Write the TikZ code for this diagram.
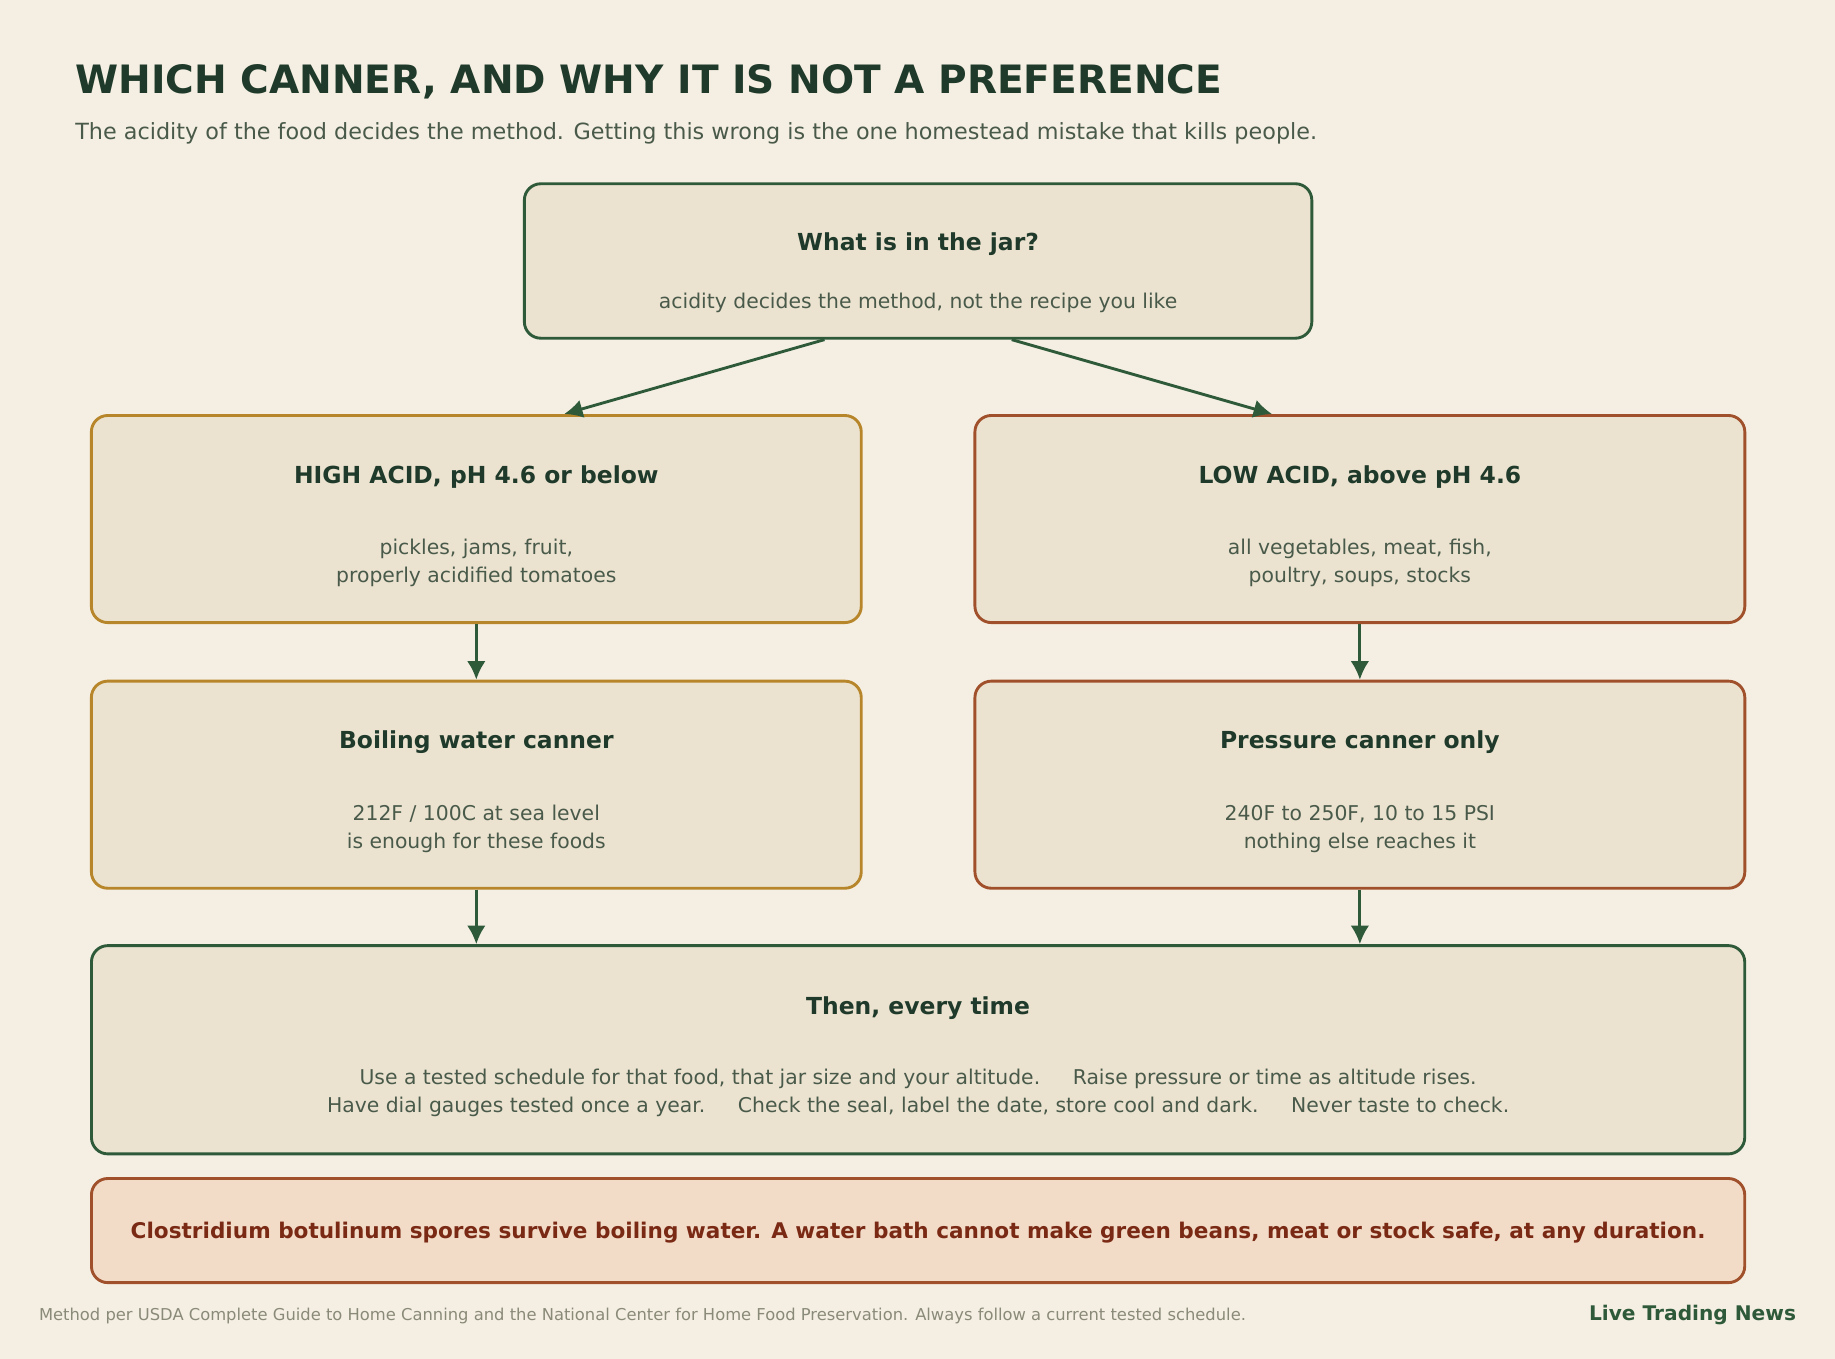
\documentclass[tikz,border=0pt]{standalone}
\usepackage{fontspec}
\setmainfont{DejaVu Sans}
\usetikzlibrary{calc,arrows.meta}
\definecolor{bgpaper}{HTML}{F5EFE3}
\definecolor{boxfill}{HTML}{EBE3D0}
\definecolor{darkgreen}{HTML}{2E5A3A}
\definecolor{titlegreen}{HTML}{1F3A2A}
\definecolor{bodygray}{HTML}{4A5A4A}
\definecolor{gold}{HTML}{B8862A}
\definecolor{rust}{HTML}{A0502A}
\definecolor{warnfill}{HTML}{F2DCC8}
\definecolor{warntext}{HTML}{7A2A14}
\definecolor{footgray}{HTML}{8A8A78}
\tikzset{
  box/.style={draw, line width=1.4pt, rounded corners=0.28cm, fill=boxfill},
  hed/.style={font=\fontsize{11.4}{14}\selectfont\bfseries, text=titlegreen},
  txt/.style={font=\fontsize{9.9}{13.6}\selectfont, text=bodygray, align=center},
  arr/.style={-{Latex[length=9pt,width=9pt]}, line width=1.4pt, draw=darkgreen}
}
\begin{document}
\begin{tikzpicture}[x=0.02cm,y=-0.02cm]
\fill[bgpaper] (0,0) rectangle (1568,1161);
\useasboundingbox (0,0) rectangle (1568,1161);
% heading
\node[anchor=base west, inner sep=0, text=titlegreen, font=\fontsize{19}{22}\selectfont\bfseries] (title) at (64,80) {WHICH CANNER, AND WHY IT IS NOT A PREFERENCE};
\node[anchor=base west, inner sep=0, text=bodygray, font=\fontsize{10.85}{13}\selectfont] (subtitle) at (64,119) {The acidity of the food decides the method. Getting this wrong is the one homestead mistake that kills people.};
% boxes
\node[box, draw=darkgreen, minimum width=13.46cm, minimum height=2.64cm] (jar) at (784.5,223) {};
\node[hed] at (784.5,209) {What is in the jar?};
\node[txt] at (784.5,259) {acidity decides the method, not the recipe you like};
\node[box, draw=gold, minimum width=13.16cm, minimum height=3.54cm] (high) at (407,443.5) {};
\node[hed] at (407,408) {HIGH ACID, pH 4.6 or below};
\node[txt] at (407,481) {pickles, jams, fruit,\\properly acidified tomatoes};
\node[box, draw=rust, minimum width=13.16cm, minimum height=3.54cm] (low) at (1162,443.5) {};
\node[hed] at (1162,408) {LOW ACID, above pH 4.6};
\node[txt] at (1162,481) {all vegetables, meat, fish,\\poultry, soups, stocks};
\node[box, draw=gold, minimum width=13.16cm, minimum height=3.54cm] (boil) at (407,670.5) {};
\node[hed] at (407,634) {Boiling water canner};
\node[txt] at (407,708) {212F / 100C at sea level\\is enough for these foods};
\node[box, draw=rust, minimum width=13.16cm, minimum height=3.54cm] (press) at (1162,670.5) {};
\node[hed] at (1162,634) {Pressure canner only};
\node[txt] at (1162,708) {240F to 250F, 10 to 15 PSI\\nothing else reaches it};
\node[box, draw=darkgreen, minimum width=28.26cm, minimum height=3.56cm] (every) at (784.5,897) {};
\node[hed] at (784.5,861) {Then, every time};
\node[txt] at (784.5,934) {Use a tested schedule for that food, that jar size and your altitude.\hspace{1.6em}Raise pressure or time as altitude rises.\\Have dial gauges tested once a year.\hspace{1.6em}Check the seal, label the date, store cool and dark.\hspace{1.6em}Never taste to check.};
\node[box, draw=rust, fill=warnfill, minimum width=28.26cm, minimum height=1.78cm] (warn) at (784.5,1051.5) {};
\node[text=warntext, font=\fontsize{10.5}{12}\selectfont\bfseries] at (784.5,1053) {Clostridium botulinum spores survive boiling water. A water bath cannot make green beans, meat or stock safe, at any duration.};
% arrows
\draw[arr] ($(jar.south)+(-80,0)$) -- ($(high.north)+(75,0)$);
\draw[arr] ($(jar.south)+(80,0)$) -- ($(low.north)+(-75,0)$);
\draw[arr] (high.south) -- (boil.north);
\draw[arr] (low.south) -- (press.north);
\draw[arr] (boil.south) -- (boil.south |- every.north);
\draw[arr] (press.south) -- (press.south |- every.north);
% footer
\node[anchor=base west, inner sep=0, text=footgray, font=\fontsize{7.95}{9}\selectfont] (source) at (33,1128) {Method per USDA Complete Guide to Home Canning and the National Center for Home Food Preservation. Always follow a current tested schedule.};
\node[anchor=base east, inner sep=0, text=darkgreen, font=\fontsize{9.8}{11}\selectfont\bfseries] (brand) at (1535,1128) {Live Trading News};
\end{tikzpicture}
\end{document}
